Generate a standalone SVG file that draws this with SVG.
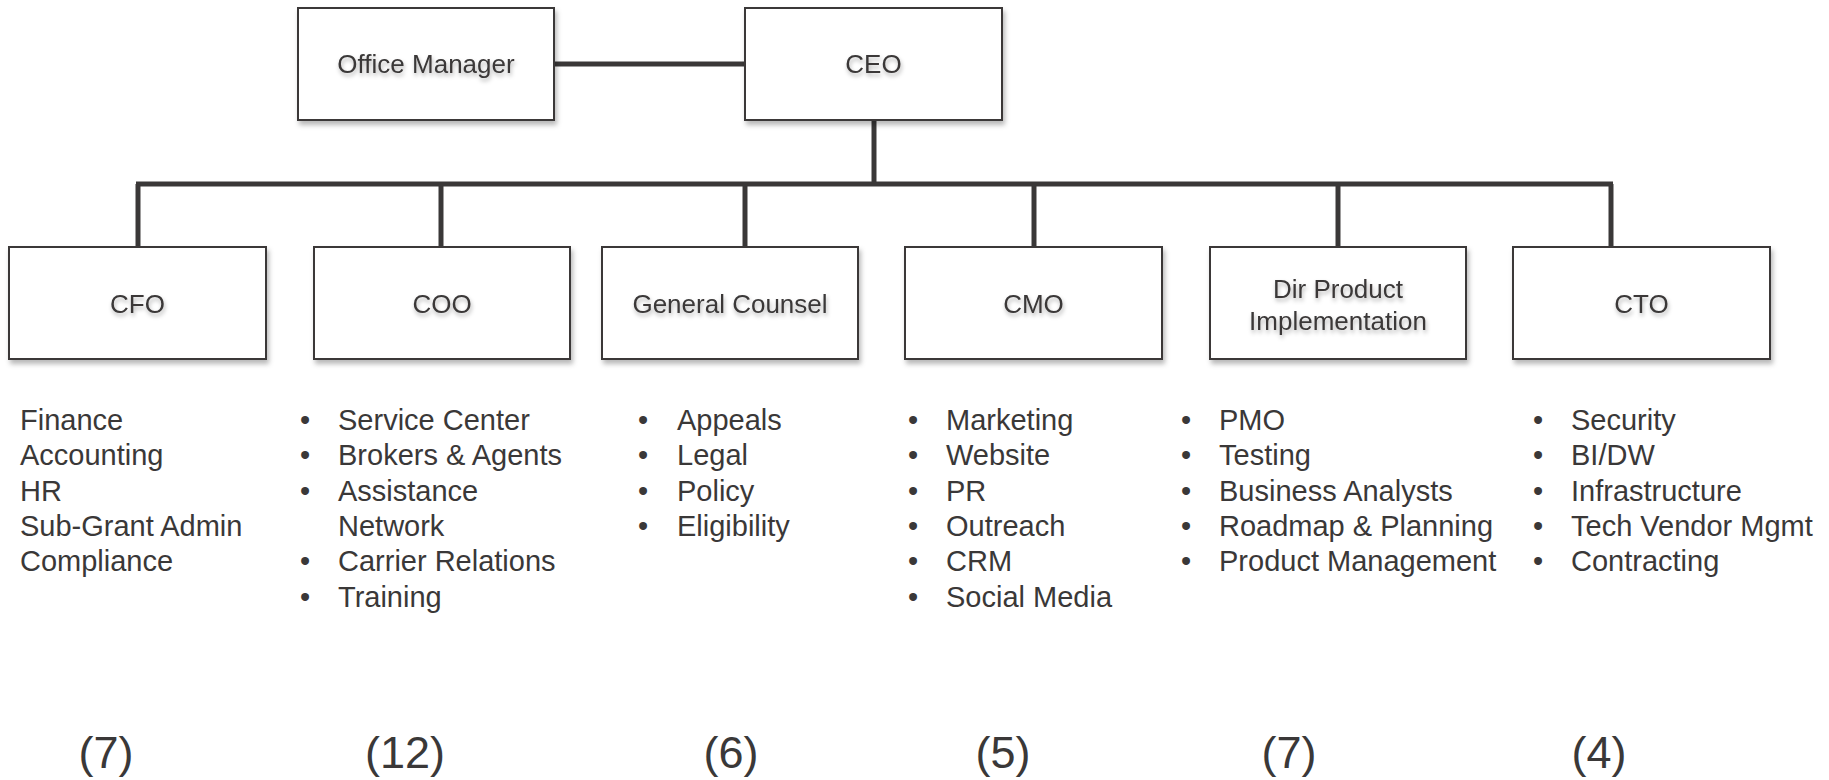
<svg xmlns="http://www.w3.org/2000/svg" width="1829" height="780" viewBox="0 0 1829 780">
  <defs>
    <filter id="boxShadow" x="-10%" y="-10%" width="125%" height="135%">
      <feDropShadow dx="2" dy="4" stdDeviation="2.5" flood-color="#000" flood-opacity="0.28"/>
    </filter>
    <filter id="textShadow" x="-10%" y="-30%" width="125%" height="170%">
      <feDropShadow dx="1" dy="3" stdDeviation="2" flood-color="#000" flood-opacity="0.3"/>
    </filter>
  </defs>
  <style>
    .box { fill: #ffffff; stroke: #3a3838; stroke-width: 2; filter: url(#boxShadow); }
    .label { font-family: "Liberation Sans", Arial, sans-serif; font-size: 26px; fill: #3a3838; text-anchor: middle; filter: url(#textShadow); }
    .item { font-family: "Liberation Sans", Arial, sans-serif; font-size: 29px; fill: #3a3838; }
    .count { font-family: "Liberation Sans", Arial, sans-serif; font-size: 45px; fill: #3a3838; text-anchor: middle; }
    .conn { stroke: #3a3838; stroke-width: 5; fill: none; }
  </style>
  <rect width="1829" height="780" fill="#ffffff"/>

  <!-- connectors -->
  <g id="connectors">
    <line class="conn" x1="554" y1="64" x2="745" y2="64"/>
    <line class="conn" x1="874" y1="120" x2="874" y2="184"/>
    <line class="conn" x1="136" y1="184" x2="1613" y2="184"/>
    <line class="conn" x1="138" y1="184" x2="138" y2="247"/>
    <line class="conn" x1="441" y1="184" x2="441" y2="247"/>
    <line class="conn" x1="745" y1="184" x2="745" y2="247"/>
    <line class="conn" x1="1034" y1="184" x2="1034" y2="247"/>
    <line class="conn" x1="1338" y1="184" x2="1338" y2="247"/>
    <line class="conn" x1="1611" y1="184" x2="1611" y2="247"/>
  </g>

  <!-- top row -->
  <g id="office-manager">
    <rect class="box" x="298" y="8" width="256" height="112"/>
    <text class="label" x="426" y="73">Office Manager</text>
  </g>
  <g id="ceo">
    <rect class="box" x="745" y="8" width="257" height="112"/>
    <text class="label" x="873.5" y="73">CEO</text>
  </g>

  <!-- second row -->
  <g id="cfo">
    <rect class="box" x="9" y="247" width="257" height="112"/>
    <text class="label" x="137.5" y="313">CFO</text>
  </g>
  <g id="coo">
    <rect class="box" x="314" y="247" width="256" height="112"/>
    <text class="label" x="442" y="313">COO</text>
  </g>
  <g id="general-counsel">
    <rect class="box" x="602" y="247" width="256" height="112"/>
    <text class="label" x="730" y="313">General Counsel</text>
  </g>
  <g id="cmo">
    <rect class="box" x="905" y="247" width="257" height="112"/>
    <text class="label" x="1033.5" y="313">CMO</text>
  </g>
  <g id="dir-product">
    <rect class="box" x="1210" y="247" width="256" height="112"/>
    <text class="label" x="1338" y="298">Dir Product</text>
    <text class="label" x="1338" y="330">Implementation</text>
  </g>
  <g id="cto">
    <rect class="box" x="1513" y="247" width="257" height="112"/>
    <text class="label" x="1641.5" y="313">CTO</text>
  </g>

  <!-- CFO responsibilities -->
  <g id="cfo-list" class="item">
    <text x="20" y="430">Finance</text>
    <text x="20" y="465">Accounting</text>
    <text x="20" y="501">HR</text>
    <text x="20" y="536">Sub-Grant Admin</text>
    <text x="20" y="571">Compliance</text>
  </g>

  <!-- COO responsibilities -->
  <g id="coo-list" class="item">
    <text x="300" y="430">•</text><text x="338" y="430">Service Center</text>
    <text x="300" y="465">•</text><text x="338" y="465">Brokers &amp; Agents</text>
    <text x="300" y="501">•</text><text x="338" y="501">Assistance</text>
    <text x="338" y="536">Network</text>
    <text x="300" y="571">•</text><text x="338" y="571">Carrier Relations</text>
    <text x="300" y="607">•</text><text x="338" y="607">Training</text>
  </g>

  <!-- General Counsel responsibilities -->
  <g id="gc-list" class="item">
    <text x="638" y="430">•</text><text x="677" y="430">Appeals</text>
    <text x="638" y="465">•</text><text x="677" y="465">Legal</text>
    <text x="638" y="501">•</text><text x="677" y="501">Policy</text>
    <text x="638" y="536">•</text><text x="677" y="536">Eligibility</text>
  </g>

  <!-- CMO responsibilities -->
  <g id="cmo-list" class="item">
    <text x="908" y="430">•</text><text x="946" y="430">Marketing</text>
    <text x="908" y="465">•</text><text x="946" y="465">Website</text>
    <text x="908" y="501">•</text><text x="946" y="501">PR</text>
    <text x="908" y="536">•</text><text x="946" y="536">Outreach</text>
    <text x="908" y="571">•</text><text x="946" y="571">CRM</text>
    <text x="908" y="607">•</text><text x="946" y="607">Social Media</text>
  </g>

  <!-- Dir Product Implementation responsibilities -->
  <g id="dir-list" class="item">
    <text x="1181" y="430">•</text><text x="1219" y="430">PMO</text>
    <text x="1181" y="465">•</text><text x="1219" y="465">Testing</text>
    <text x="1181" y="501">•</text><text x="1219" y="501">Business Analysts</text>
    <text x="1181" y="536">•</text><text x="1219" y="536">Roadmap &amp; Planning</text>
    <text x="1181" y="571">•</text><text x="1219" y="571">Product Management</text>
  </g>

  <!-- CTO responsibilities -->
  <g id="cto-list" class="item">
    <text x="1533" y="430">•</text><text x="1571" y="430">Security</text>
    <text x="1533" y="465">•</text><text x="1571" y="465">BI/DW</text>
    <text x="1533" y="501">•</text><text x="1571" y="501">Infrastructure</text>
    <text x="1533" y="536">•</text><text x="1571" y="536">Tech Vendor Mgmt</text>
    <text x="1533" y="571">•</text><text x="1571" y="571">Contracting</text>
  </g>

  <!-- headcounts -->
  <g id="counts" class="count">
    <text x="106" y="768">(7)</text>
    <text x="405" y="768">(12)</text>
    <text x="731" y="768">(6)</text>
    <text x="1003" y="768">(5)</text>
    <text x="1289" y="768">(7)</text>
    <text x="1599" y="768">(4)</text>
  </g>
</svg>
